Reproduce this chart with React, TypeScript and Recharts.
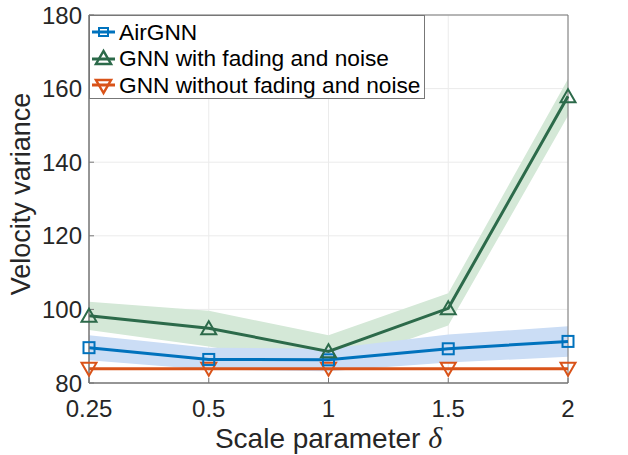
import { Area, CartesianGrid, ComposedChart, Legend, Line, ReferenceArea, XAxis, YAxis } from 'recharts'

// scale parameter δ (categorical, evenly spaced)
const deltas = ['0.25', '0.5', '1', '1.5', '2']

const airGnn = [89.6, 86.4, 86.3, 89.3, 91.3]
const airGnnLow = [86.2, 83.6, 83.2, 85.6, 87.1]
const airGnnHigh = [93.0, 89.6, 89.3, 93.2, 95.4]

const withFading = [98.3, 94.9, 88.6, 100.3, 157.9]
const withFadingLow = [94.4, 89.9, 84.2, 95.6, 152.6]
const withFadingHigh = [102.1, 99.6, 93.0, 104.4, 162.6]

const withoutFading = [83.9, 83.9, 83.9, 83.9, 83.9]

const yTicks = [80, 100, 120, 140, 160, 180]

const BLUE = '#0072BD'
const GREEN = '#2C6A4A'
const ORANGE = '#D95319'
const BLUE_BAND = '#CBDDF5'
const GREEN_BAND = '#D4E8D7'
const AXIS = '#777777'
const TEXT = '#262626'
const FONT = '"Liberation Sans", Arial, Helvetica, sans-serif'

const data = deltas.map((d, i) => ({
  delta: d,
  airGnn: airGnn[i],
  airGnnBand: [airGnnLow[i], airGnnHigh[i]],
  withFading: withFading[i],
  withFadingBand: [withFadingLow[i], withFadingHigh[i]],
  withoutFading: withoutFading[i],
}))

function squareDot(color: string) {
  return (p: any) => (
    <rect key={`sq-${p.index}`} x={p.cx - 5.5} y={p.cy - 5.5} width={11} height={11} fill="none" stroke={color} strokeWidth={2} />
  )
}

function triUpDot(color: string) {
  return (p: any) => (
    <polygon key={`tu-${p.index}`} points={`${p.cx},${p.cy - 7} ${p.cx - 7.5},${p.cy + 6} ${p.cx + 7.5},${p.cy + 6}`} fill="none" stroke={color} strokeWidth={2} />
  )
}

function triDownDot(color: string) {
  return (p: any) => (
    <polygon key={`td-${p.index}`} points={`${p.cx},${p.cy + 7} ${p.cx - 7.5},${p.cy - 6} ${p.cx + 7.5},${p.cy - 6}`} fill="none" stroke={color} strokeWidth={2} />
  )
}

const legendRows = [
  { name: 'AirGNN', color: BLUE, marker: 'square' },
  { name: 'GNN with fading and noise', color: GREEN, marker: 'up' },
  { name: 'GNN without fading and noise', color: ORANGE, marker: 'down' },
]

function LegendIcon({ color, marker }: { color: string; marker: string }) {
  return (
    <svg width={23} height={22} style={{ display: 'block', flex: 'none' }}>
      <line x1={0} y1={11} x2={23} y2={11} stroke={color} strokeWidth={3} />
      {marker === 'square' && <rect x={7} y={7} width={9} height={8} fill="none" stroke={color} strokeWidth={2} />}
      {marker === 'up' && <polygon points="11.5,3 4,16 19,16" fill="none" stroke={color} strokeWidth={2.5} />}
      {marker === 'down' && <polygon points="11.5,19 4,6 19,6" fill="none" stroke={color} strokeWidth={2.5} />}
    </svg>
  )
}

function LegendBox() {
  return (
    <div style={{ width: 336, height: 84, boxSizing: 'border-box', border: `1px solid ${AXIS}`, background: '#fff', paddingTop: 3, paddingLeft: 2, fontFamily: FONT, fontSize: 22.7, color: '#000' }}>
      {legendRows.map((r) => (
        <div key={r.name} style={{ display: 'flex', alignItems: 'center', height: 26.5, whiteSpace: 'nowrap' }}>
          <LegendIcon color={r.color} marker={r.marker} />
          <span style={{ marginLeft: 4 }}>{r.name}</span>
        </div>
      ))}
    </div>
  )
}

function XLabel({ viewBox }: any) {
  const { x, y, width, height } = viewBox
  return (
    <text x={x + width / 2} y={y + height - 7} textAnchor="middle" fill={TEXT} fontSize={28} fontFamily={FONT}>
      Scale parameter <tspan fontStyle="italic" fontSize={30} fontFamily='"Liberation Serif", "DejaVu Serif", serif'>δ</tspan>
    </text>
  )
}

function YLabel({ viewBox }: any) {
  const cx = 21
  const cy = viewBox.y + viewBox.height / 2 - 5
  return (
    <text x={cx} y={cy} transform={`rotate(-90, ${cx}, ${cy})`} textAnchor="middle" dominantBaseline="central" fill={TEXT} fontSize={27} fontFamily={FONT}>
      Velocity variance
    </text>
  )
}

export default function App() {
  return (
    <div style={{ position: 'absolute', left: 0, top: 0, width: 628, height: 455, background: '#fff' }}>
      <ComposedChart width={628} height={455} data={data} margin={{ top: 15, right: 60, bottom: 0, left: 0 }}>
        <CartesianGrid stroke="#ebebeb" strokeWidth={1} />
        <XAxis
          dataKey="delta"
          type="category"
          scale="point"
          height={72}
          tickSize={-5}
          tickMargin={22}
          tick={{ fill: TEXT, fontSize: 24, fontFamily: FONT }}
          axisLine={{ stroke: AXIS }}
          tickLine={{ stroke: AXIS }}
          label={<XLabel />}
        />
        <YAxis
          type="number"
          domain={[80, 180]}
          ticks={yTicks}
          width={89}
          tickSize={-5}
          tickMargin={12}
          tick={{ fill: TEXT, fontSize: 24, fontFamily: FONT }}
          axisLine={{ stroke: AXIS }}
          tickLine={{ stroke: AXIS }}
          label={<YLabel />}
        />
        <Area type="linear" dataKey="withFadingBand" stroke="none" fill={GREEN_BAND} fillOpacity={1} isAnimationActive={false} legendType="none" />
        <Area type="linear" dataKey="airGnnBand" stroke="none" fill={BLUE_BAND} fillOpacity={1} isAnimationActive={false} legendType="none" />
        <Line type="linear" dataKey="withoutFading" stroke={ORANGE} strokeWidth={3} dot={triDownDot(ORANGE)} activeDot={false} isAnimationActive={false} />
        <Line type="linear" dataKey="airGnn" stroke={BLUE} strokeWidth={3} dot={squareDot(BLUE)} activeDot={false} isAnimationActive={false} />
        <Line type="linear" dataKey="withFading" stroke={GREEN} strokeWidth={3} dot={triUpDot(GREEN)} activeDot={false} isAnimationActive={false} />
        <ReferenceArea x1="0.25" x2="2" y1={80} y2={180} fill="none" stroke={AXIS} strokeWidth={1} />
        <Legend
          layout="horizontal"
          verticalAlign="middle"
          align="center"
          content={<LegendBox />}
          wrapperStyle={{ left: 89, top: 15, width: 336, height: 84 }}
        />
      </ComposedChart>
    </div>
  )
}
